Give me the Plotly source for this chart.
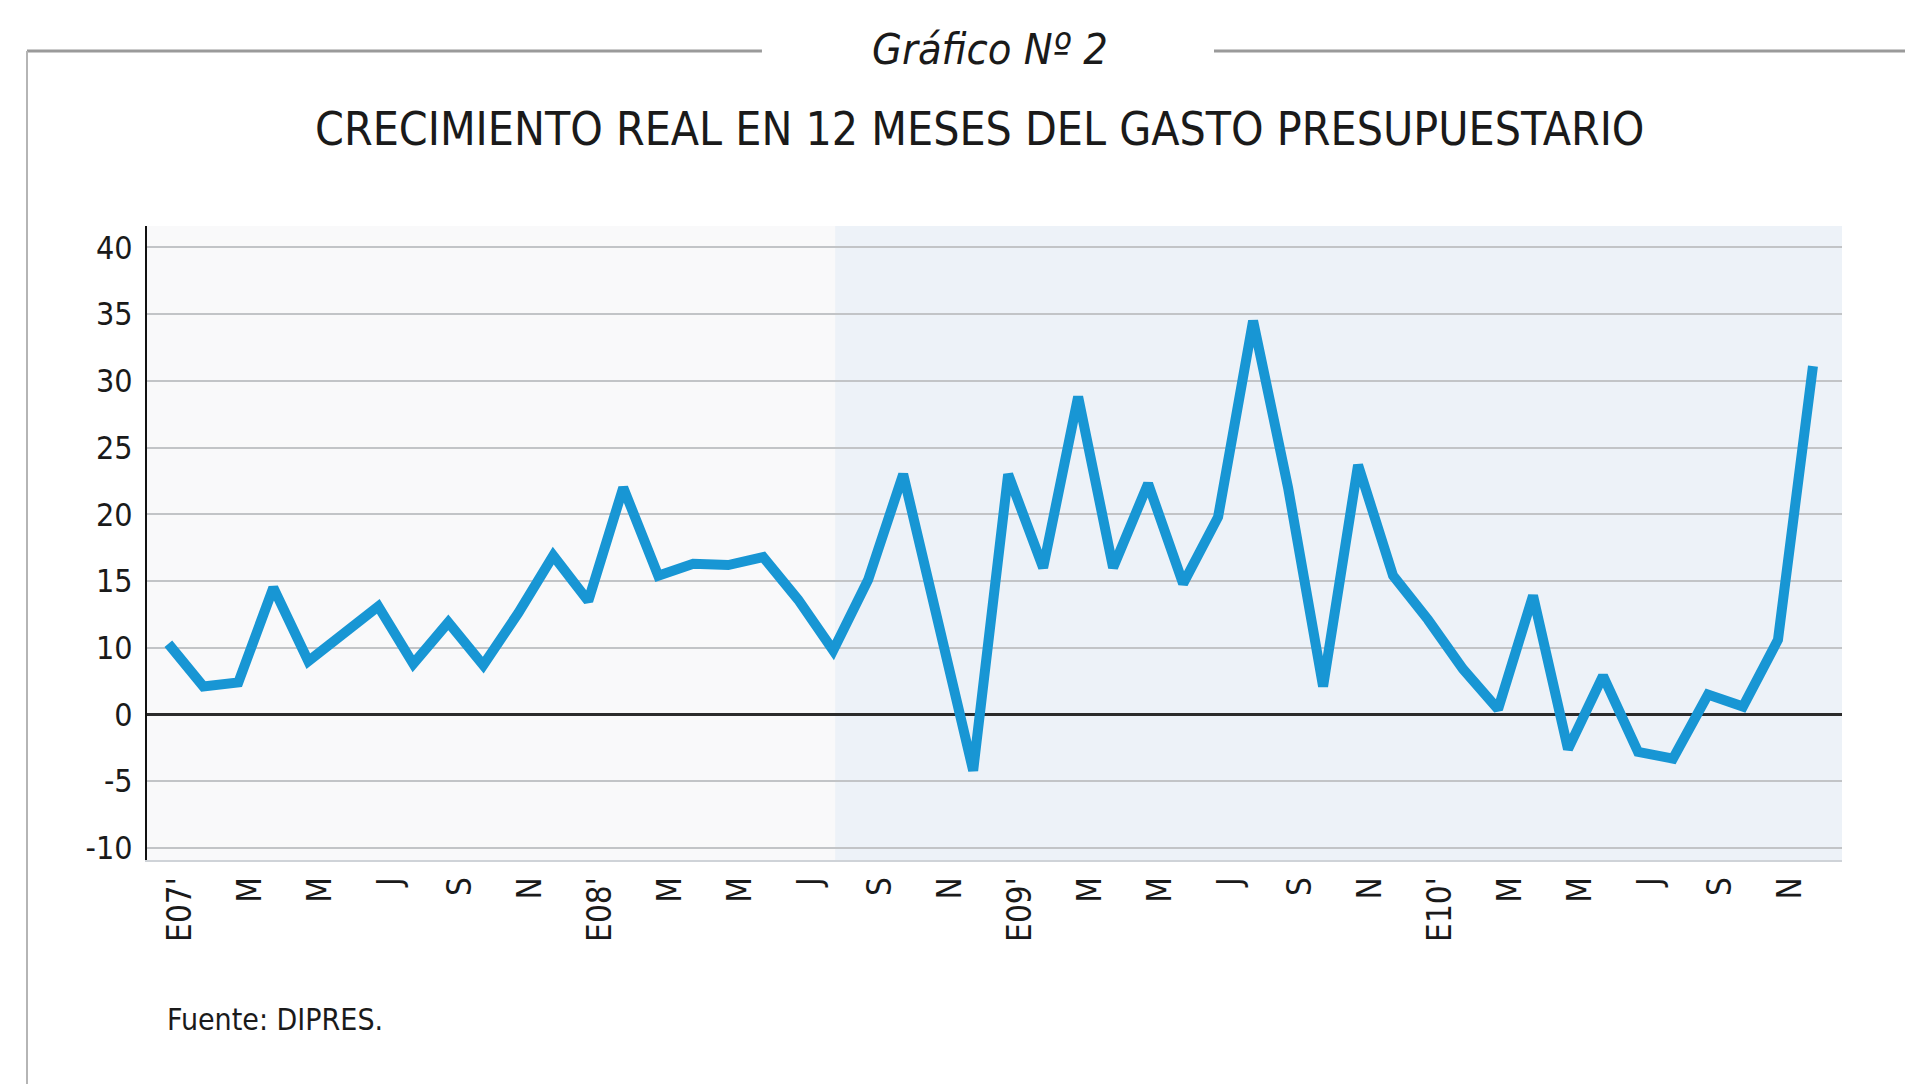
import numpy as np
import plotly.graph_objects as go

# ---- data (monthly, Jan 2007 .. Dec 2010), in axis units (zero line = 0) ----
growth = [5.3, 2.1, 2.4, 9.5, 4.0, 6.0, 8.1, 3.8, 6.9, 3.7, 7.6, 11.9,
          8.5, 17.0, 10.4, 11.3, 11.2, 11.8, 8.6, 4.8, 10.1, 18.0, 6.6, -4.2,
          18.0, 11.0, 23.8, 11.0, 17.3, 9.8, 14.8, 29.5, 17.0, 2.1, 18.7, 10.4,
          7.1, 3.4, 0.4, 8.9, -2.6, 2.9, -2.8, -3.3, 1.5, 0.6, 5.6, 26.1]
x_labels = ["E07'", "M", "M", "J", "S", "N",
            "E08'", "M", "M", "J", "S", "N",
            "E09'", "M", "M", "J", "S", "N",
            "E10'", "M", "M", "J", "S", "N"]
y_tick_vals = [35, 30, 25, 20, 15, 10, 5, 0, -5, -10]
y_tick_text = ["40", "35", "30", "25", "20", "15", "10", "0", "-5", "-10"]

months = np.arange(len(growth))
x_tick_vals = months[::2]

FONT = "DejaVu Sans Condensed, DejaVu Sans, sans-serif"

fig = go.Figure()
fig.add_trace(go.Scatter(
    x=months, y=growth, mode="lines",
    line=dict(color="#1896d4", width=10),
    hoverinfo="x+y", showlegend=False,
))

fig.update_layout(
    width=1905, height=1076,
    margin=dict(l=139, r=71, t=218, b=224, autoexpand=False),
    paper_bgcolor="white",
    plot_bgcolor="#f9f9fa",
    font=dict(family=FONT, color="#1a1a1a"),
    xaxis=dict(
        range=[-0.61, 47.83],
        tickmode="array", tickvals=x_tick_vals, ticktext=x_labels,
        tickangle=-90, tickfont=dict(size=33, color="#1a1a1a"),
        ticks="", showgrid=False, zeroline=False,
        showline=True, linecolor="#cfd3d8", linewidth=2,
        ticklabelstandoff=2, ticklabelshift=12, automargin=False,
    ),
    yaxis=dict(
        range=[-10.9, 36.6],
        tickmode="array", tickvals=y_tick_vals, ticktext=y_tick_text,
        tickfont=dict(size=32, color="#1a1a1a"),
        ticks="", showgrid=True, gridcolor="#c2c4c7", gridwidth=2,
        zeroline=True, zerolinecolor="#2b2b2b", zerolinewidth=3,
        showline=True, linecolor="#111111", linewidth=2,
        ticklabelstandoff=6, automargin=False,
    ),
    shapes=[
        # bluish tint on the right part of the plot background
        dict(type="rect", xref="paper", yref="paper", x0=0.406, x1=1.0, y0=0, y1=1,
             fillcolor="#edf2f8", line=dict(width=0), layer="below"),
        # header rules and frame
        dict(type="line", xref="paper", yref="paper", x0=-0.0708, x1=0.3628,
             y0=1.276, y1=1.276, line=dict(color="#9a9a9a", width=3)),
        dict(type="line", xref="paper", yref="paper", x0=0.6295, x1=1.05,
             y0=1.276, y1=1.276, line=dict(color="#9a9a9a", width=3)),
        dict(type="line", xref="paper", yref="paper", x0=-0.0708, x1=-0.0708,
             y0=1.276, y1=-0.36, line=dict(color="#b5b5b5", width=2)),
    ],
    annotations=[
        dict(text="Gráfico Nº 2", xref="paper", yref="paper", x=0.4973, y=1.279,
             xanchor="center", yanchor="middle", showarrow=False,
             font=dict(family=FONT, size=43, style="italic", color="#1a1a1a")),
        dict(text="CRECIMIENTO REAL EN 12 MESES DEL GASTO PRESUPUESTARIO",
             xref="paper", yref="paper", x=0.4914, y=1.153,
             xanchor="center", yanchor="middle", showarrow=False,
             font=dict(family=FONT, size=46, color="#1a1a1a")),
        dict(text="Fuente: DIPRES.", xref="paper", yref="paper", x=0.0106, y=-0.2508,
             xanchor="left", yanchor="middle", showarrow=False,
             font=dict(family=FONT, size=30, color="#1a1a1a")),
    ],
)

fig.write_html("out.html")
